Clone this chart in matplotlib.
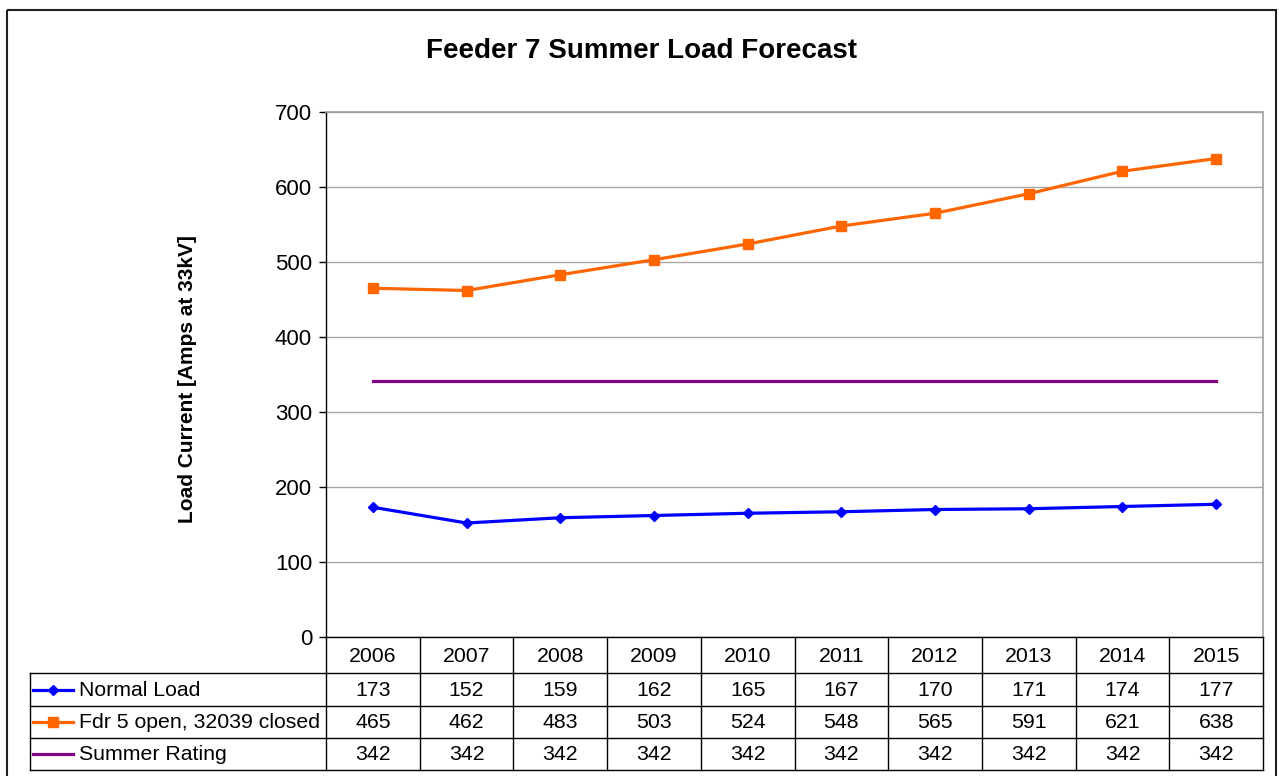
import matplotlib
matplotlib.use("Agg")
from matplotlib import pyplot as plt
from matplotlib.lines import Line2D
from matplotlib.patches import Rectangle
from matplotlib.transforms import Affine2D

plt.rcParams['font.family'] = ['Liberation Sans', 'DejaVu Sans']

years = ['2006', '2007', '2008', '2009', '2010', '2011', '2012', '2013', '2014', '2015']
normal_load = [173, 152, 159, 162, 165, 167, 170, 171, 174, 177]
fdr5_open = [465, 462, 483, 503, 524, 548, 565, 591, 621, 638]
summer_rating = [342, 342, 342, 342, 342, 342, 342, 342, 342, 342]

series_names = ['Normal Load', 'Fdr 5 open, 32039 closed', 'Summer Rating']
series_colors = ['#0000FF', '#FF6600', '#800080']
series_markers = ['D', 's', None]
series_sizes = [5.5, 7.5, 0]
series_values = [normal_load, fdr5_open, summer_rating]

W, H = 1279, 776
fig = plt.figure(figsize=(W / 100, H / 100), dpi=100)
# pixel coordinates, origin top-left
px = Affine2D().scale(1 / W, -1 / H).translate(0, 1) + fig.transFigure

# outer chart border
fig.patches.append(Rectangle((7, 10), 1276 - 7, 780, transform=px, fill=False,
                             edgecolor='#202020', linewidth=1.5))

ax_l, ax_r, ax_t, ax_b = 326, 1263, 112, 637
ax = fig.add_axes([ax_l / W, 1 - ax_b / H, (ax_r - ax_l) / W, (ax_b - ax_t) / H])

x = list(range(len(years)))
for vals, name, col, mk, ms in zip(series_values, series_names, series_colors,
                                   series_markers, series_sizes):
    ax.plot(x, vals, color=col, linewidth=2.3, marker=mk, markersize=ms,
            label=name, zorder=3)

ax.set_xlim(-0.5, len(years) - 0.5)
ax.set_ylim(0, 700)
ax.set_yticks(range(0, 701, 100))
ax.set_xticks([])
ax.tick_params(axis='y', labelsize=16, length=5, width=1, direction='out', pad=5)
ax.grid(axis='y', color='#a6a6a6', linewidth=1)
ax.set_axisbelow(True)
for s in ['top', 'right']:
    ax.spines[s].set_color('#a0a0a0')
    ax.spines[s].set_linewidth(1.2)
for s in ['left', 'bottom']:
    ax.spines[s].set_color('black')
    ax.spines[s].set_linewidth(1)

ax.set_ylabel('Load Current [Amps at 33kV]', fontsize=15, fontweight='bold')
ax.yaxis.set_label_coords((197 - ax_l) / (ax_r - ax_l), 0.5 - 5 / (ax_b - ax_t))
fig.text(642, 51, 'Feeder 7 Summer Load Forecast', transform=px, ha='center',
         va='center', fontsize=20, fontweight='bold')

# data table under the axis
tbl_left = 30
row_edges = [637, 673, 706, 738, 770]
col_w = (ax_r - ax_l) / len(years)
col_edges = [ax_l + k * col_w for k in range(len(years) + 1)]
tfs = 15.3

def hline(y, x0, x1):
    fig.lines.append(Line2D([x0, x1], [y, y], transform=px, color='black', linewidth=1))

def vline(xv, y0, y1):
    fig.lines.append(Line2D([xv, xv], [y0, y1], transform=px, color='black', linewidth=1))

for y in row_edges[1:]:
    hline(y, tbl_left, ax_r)
vline(tbl_left, row_edges[1], row_edges[-1])
for xv in col_edges:
    vline(xv, row_edges[0], row_edges[-1])

def mid(i):
    return (row_edges[i] + row_edges[i + 1]) / 2

for j, yr in enumerate(years):
    fig.text((col_edges[j] + col_edges[j + 1]) / 2, mid(0) + 1, yr, transform=px,
             ha='center', va='center', fontsize=tfs)
for i, (name, vals, col, mk, ms) in enumerate(zip(series_names, series_values, series_colors,
                                                  series_markers, series_sizes), start=1):
    yc = mid(i)
    fig.text(79, yc + 1, name, transform=px, ha='left', va='center', fontsize=tfs)
    fig.lines.append(Line2D([33, 73], [yc, yc], transform=px, color=col, linewidth=2.3))
    if mk:
        fig.lines.append(Line2D([53], [yc], transform=px, color=col, marker=mk,
                                markersize=ms, linestyle='none'))
    for j, v in enumerate(vals):
        fig.text((col_edges[j] + col_edges[j + 1]) / 2, yc + 1, str(v), transform=px,
                 ha='center', va='center', fontsize=tfs)

fig.savefig('out.png', dpi=100)
